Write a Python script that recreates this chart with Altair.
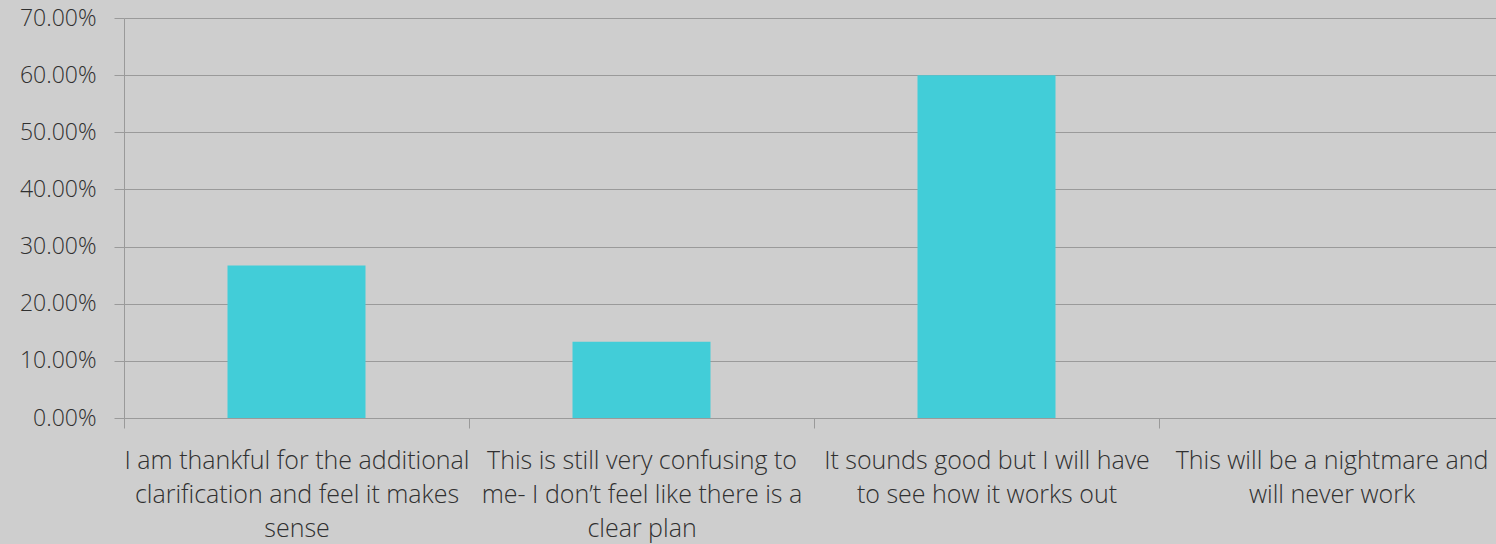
import altair as alt
import pandas as pd

categories = [
    "I am thankful for the additional\nclarification and feel it makes\nsense",
    "This is still very confusing to\nme- I don\u2019t feel like there is a\nclear plan",
    "It sounds good but I will have\nto see how it works out",
    "This will be a nightmare and\nwill never work",
]
values = [0.2667, 0.1333, 0.60, 0.0]

df = pd.DataFrame({"category": categories, "value": values})

FONT = "Open Sans"
TEXT = "#303030"
GRID = "#9a9a9a"
BG = "#cecece"

chart = (
    alt.Chart(df)
    .mark_bar(color="#42cdd8", size=138)
    .encode(
        x=alt.X(
            "category:N",
            sort=categories,
            title=None,
            scale=alt.Scale(range=[0, 1380], paddingInner=0, paddingOuter=0),
            axis=alt.Axis(
                labelAngle=0,
                labelExpr="split(datum.label, '\\n')",
                labelFont=FONT,
                labelFontWeight=300,
                labelFontSize=25,
                labelLineHeight=34,
                labelColor=TEXT,
                labelPadding=20,
                labelLimit=0,
                tickBand="extent",
                tickSize=10,
                tickColor=GRID,
                domainColor=GRID,
                grid=False,
            ),
        ),
        y=alt.Y(
            "value:Q",
            title=None,
            scale=alt.Scale(domain=[0, 0.7], nice=False),
            axis=alt.Axis(
                format=".2%",
                values=[0, 0.1, 0.2, 0.3, 0.4, 0.5, 0.6, 0.7],
                labelFont=FONT,
                labelFontWeight=300,
                labelFontSize=23,
                labelColor=TEXT,
                labelPadding=18,
                tickSize=10,
                tickColor=GRID,
                domainColor=GRID,
                gridColor=GRID,
                gridOpacity=1,
            ),
        ),
    )
    .properties(
        width=1372,
        height=400,
        background=BG,
        padding={"left": 124, "top": 18, "right": 0, "bottom": 126},
        autosize=alt.AutoSizeParams(type="none"),
    )
    .configure_view(stroke=None)
)

chart.save("out.html", embed_options={"renderer": "svg", "actions": False})
